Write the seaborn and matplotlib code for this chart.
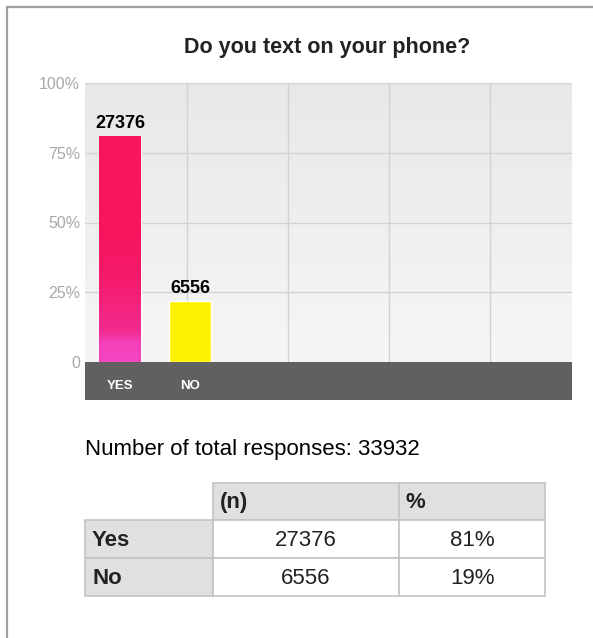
import numpy as np
import matplotlib
matplotlib.use("Agg")
import matplotlib.pyplot as plt
import seaborn as sns
from matplotlib.colors import LinearSegmentedColormap
from matplotlib.patches import Rectangle
from matplotlib.lines import Line2D

# ---------------- data ----------------
title = "Do you text on your phone?"
categories = ["YES", "NO"]
bar_pct = [81.0, 21.8]
bar_labels = ["27376", "6556"]
y_ticks = [0, 25, 50, 75, 100]
y_tick_labels = ["0", "25%", "50%", "75%", "100%"]
total_text = "Number of total responses: 33932"
table_cols = ["(n)", "%"]
table_rows = ["Yes", "No"]
table_n = ["27376", "6556"]
table_pct = ["81%", "19%"]

# ---------------- figure ----------------
W, H = 593, 638
DPI = 100
sns.set_theme(style="white")
plt.rcParams["font.family"] = ["Liberation Sans", "DejaVu Sans"]

fig = plt.figure(figsize=(W / DPI, H / DPI), dpi=DPI)
fig.patch.set_facecolor("white")


def fx(px):
    return px / W


def fy(py):
    return 1 - py / H


# page border (top and left)
fig.add_artist(Line2D([fx(7), fx(7)], [fy(7), 0], color="#a0a0a0", lw=1.6, transform=fig.transFigure))
fig.add_artist(Line2D([fx(7), 1], [fy(7), fy(7)], color="#a0a0a0", lw=1.6, transform=fig.transFigure))

# main plot area
L, R, T, B = 85, 572, 83, 362
ax = fig.add_axes([fx(L), fy(B), fx(R - L), (B - T) / H])

df_x = categories
sns.barplot(x=df_x, y=bar_pct, hue=df_x, palette=["#f8155a", "#fff200"],
            legend=False, ax=ax, width=0.6, saturation=1, zorder=3)

unit_px = 70.0
XLIM = (-35 / unit_px, 1 + (R - 190) / unit_px)

# background gradient
bg_cmap = LinearSegmentedColormap.from_list("bg", ["#e8e8e8", "#f6f6f6"])
grad = np.linspace(0, 1, 256).reshape(-1, 1)
ax.imshow(grad, cmap=bg_cmap, aspect="auto", extent=[0, 1, 0, 1],
          transform=ax.transAxes, zorder=0)

# grid lines
for yt in y_ticks[1:]:
    ax.axhline(yt, color="#d2d2d2", lw=1.0, zorder=1)
for gx in [187, 288, 389, 490]:
    fr = (gx - L) / (R - L)
    ax.add_line(Line2D([fr, fr], [0, 1], color="#d2d2d2", lw=1.0,
                       transform=ax.transAxes, zorder=1))

# gradient on YES bar
bars = [p for p in ax.patches]
yes_bar = bars[0]
bar_cmap = LinearSegmentedColormap.from_list(
    "bar", [(0.0, "#f546c2"), (0.09, "#f43fb8"), (0.13, "#f32c92"),
            (0.35, "#f41b6c"), (0.6, "#f7155c"), (1.0, "#f8165c")])
x0, y0 = yes_bar.get_x(), yes_bar.get_y()
w, h = yes_bar.get_width(), yes_bar.get_height()
im = ax.imshow(np.linspace(0, 1, 256).reshape(-1, 1), cmap=bar_cmap, origin="lower",
               aspect="auto", extent=[x0, x0 + w, y0, y0 + h], zorder=4)
im.set_clip_path(yes_bar)
ax.set_xlim(*XLIM)
ax.set_ylim(0, 100)

# value labels
for p, lab in zip(bars, bar_labels):
    ax.text(p.get_x() + p.get_width() / 2, p.get_height() + 1.5, lab,
            ha="center", va="bottom", fontsize=13, fontweight="bold", color="black", zorder=5)

ax.set_yticks(y_ticks)
ax.set_yticklabels(y_tick_labels, color="#a8a8a8", fontsize=11.5)
ax.tick_params(axis="y", length=0, pad=3.5)
ax.set_xticks([])
ax.set_xlabel("")
for s in ax.spines.values():
    s.set_visible(False)

# dark band with category labels
band = fig.add_axes([fx(L), fy(400), fx(R - L), (400 - B) / H])
band.set_facecolor("#606060")
band.set_xlim(*XLIM)
band.set_ylim(0, 1)
for i, c in enumerate(categories):
    band.text(i, 0.37, c, ha="center", va="center", color="white",
              fontsize=9.5, fontweight="bold")
band.set_xticks([])
band.set_yticks([])
for s in band.spines.values():
    s.set_visible(False)

# title
fig.text(fx(327), fy(47), title, ha="center", va="center", fontsize=15.5,
         fontweight="bold", color="#222222")

# total text
fig.text(fx(85), fy(449), total_text, ha="left", va="center", fontsize=16, color="black")

# table
col_x = [85, 213, 399, 545]
row_y = [483, 520, 558, 596]
border = "#c4c4c4"
head_bg = "#e0e0e0"
TFS = 16


def cell(x0p, y0p, x1p, y1p, fc):
    fig.add_artist(Rectangle((fx(x0p), fy(y1p)), fx(x1p - x0p), (y1p - y0p) / H,
                             facecolor=fc, edgecolor=border, lw=1.2,
                             transform=fig.transFigure))


for j, c in enumerate(table_cols):
    cell(col_x[j + 1], row_y[0], col_x[j + 2], row_y[1], head_bg)
    fig.text(fx(col_x[j + 1] + 7), fy((row_y[0] + row_y[1]) / 2 + 1), c, ha="left",
             va="center", fontsize=TFS, fontweight="bold", color="#222222")

for i, r in enumerate(table_rows):
    ya, yb = row_y[i + 1], row_y[i + 2]
    cell(col_x[0], ya, col_x[1], yb, head_bg)
    fig.text(fx(col_x[0] + 7), fy((ya + yb) / 2 + 1), r, ha="left", va="center",
             fontsize=TFS, fontweight="bold", color="#222222")
    for j, val in enumerate([table_n[i], table_pct[i]]):
        cell(col_x[j + 1], ya, col_x[j + 2], yb, "white")
        fig.text(fx((col_x[j + 1] + col_x[j + 2]) / 2), fy((ya + yb) / 2 + 1), val,
                 ha="center", va="center", fontsize=TFS, color="#222222")

fig.savefig("out.png", dpi=DPI)
